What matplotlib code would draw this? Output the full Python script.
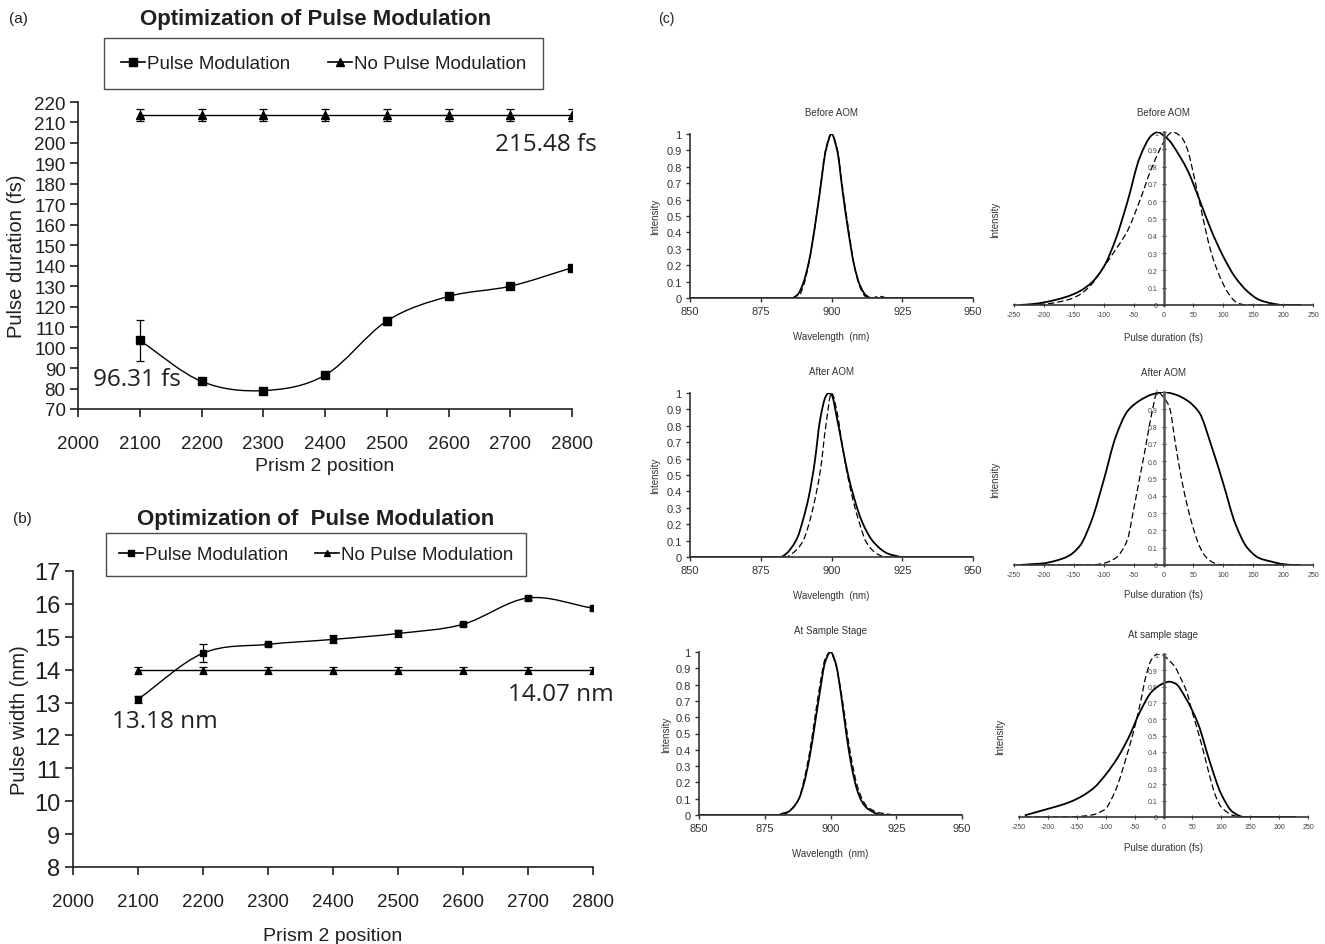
import numpy as np
import matplotlib
matplotlib.use("Agg")
import matplotlib.pyplot as plt
from matplotlib.path import Path
from matplotlib.patches import PathPatch
from matplotlib.lines import Line2D

# ---------------- data: panel (a) ----------------
prism_pos = [2100, 2200, 2300, 2400, 2500, 2600, 2700, 2800]
dur_pm = [103.5, 83.5, 79.0, 86.5, 113.0, 125.0, 130.0, 139.0]
dur_pm_err = [10.0, 1.2, 1.0, 1.0, 2.0, 1.2, 1.2, 1.2]
dur_npm = [213.5, 213.5, 213.5, 213.5, 213.5, 213.5, 213.5, 213.5]
dur_npm_err = [3.0, 3.0, 3.0, 3.0, 3.0, 3.0, 3.0, 3.0]

# ---------------- data: panel (b) ----------------
wid_pm = [13.1, 14.5, 14.77, 14.92, 15.1, 15.38, 16.18, 15.87]
wid_pm_err = [0.1, 0.27, 0.05, 0.12, 0.12, 0.05, 0.05, 0.05]
wid_npm = [13.98, 13.98, 13.98, 13.98, 13.98, 13.98, 13.98, 13.98]
wid_npm_err = [0.1, 0.1, 0.1, 0.1, 0.1, 0.1, 0.1, 0.1]

legend_labels = ["Pulse Modulation", "No Pulse Modulation"]

# ---------------- data: panel (c) spectra ----------------
# Before AOM
spec1_x_solid = [850, 886, 888, 890, 892, 894, 896, 898, 900, 902, 904, 906, 908, 910, 912, 914, 950]
spec1_y_solid = [0, 0, 0.02, 0.09, 0.22, 0.42, 0.66, 0.90, 1.0, 0.90, 0.64, 0.40, 0.20, 0.08, 0.02, 0.0, 0]
spec1_x_dash = [850, 888, 890, 892, 894, 896, 898, 900, 902, 904, 906, 908, 910, 912, 914, 917, 920, 950]
spec1_y_dash = [0, 0, 0.07, 0.21, 0.42, 0.67, 0.91, 1.0, 0.91, 0.66, 0.42, 0.20, 0.07, 0.01, 0.0, 0.01, 0, 0]
# After AOM
spec2_x_solid = [850, 882, 884, 886, 888, 890, 892, 894, 896, 898, 899, 900, 902, 904, 906, 908, 910, 912, 914, 916, 918, 920, 922, 925, 950]
spec2_y_solid = [0, 0, 0.02, 0.06, 0.12, 0.23, 0.37, 0.57, 0.84, 0.98, 1.0, 0.99, 0.84, 0.66, 0.49, 0.36, 0.25, 0.17, 0.11, 0.07, 0.04, 0.02, 0.01, 0, 0]
spec2_x_dash = [850, 884, 886, 888, 890, 892, 894, 896, 898, 900, 902, 904, 906, 908, 910, 912, 914, 916, 918, 920, 950]
spec2_y_dash = [0, 0, 0.02, 0.05, 0.1, 0.2, 0.34, 0.52, 0.8, 1.0, 0.88, 0.66, 0.47, 0.32, 0.2, 0.1, 0.05, 0.02, 0.005, 0, 0]
# At sample stage
spec3_x_solid = [850, 880, 882, 884, 886, 888, 890, 892, 894, 896, 898, 900, 902, 904, 906, 908, 910, 912, 914, 916, 918, 920, 950]
spec3_y_solid = [0, 0, 0.01, 0.02, 0.05, 0.1, 0.2, 0.35, 0.55, 0.76, 0.94, 1.0, 0.93, 0.74, 0.5, 0.3, 0.16, 0.08, 0.04, 0.02, 0.005, 0, 0]
spec3_x_dash = [850, 882, 884, 886, 888, 890, 892, 894, 896, 898, 900, 902, 904, 906, 908, 910, 912, 914, 916, 918, 920, 922, 925, 950]
spec3_y_dash = [0, 0, 0.02, 0.05, 0.1, 0.22, 0.38, 0.59, 0.8, 0.96, 1.0, 0.92, 0.76, 0.54, 0.34, 0.19, 0.1, 0.05, 0.03, 0.015, 0.01, 0.005, 0, 0]

# ---------------- data: panel (c) pulse profiles ----------------
# Before AOM
pul1_x_solid = [-240, -220, -200, -180, -160, -140, -120, -100, -80, -60, -40, -20, -10, 0, 10, 20, 40, 60, 80, 100, 120, 140, 160, 180, 200, 230]
pul1_y_solid = [0, 0.005, 0.015, 0.03, 0.05, 0.08, 0.13, 0.22, 0.38, 0.6, 0.85, 0.98, 1.0, 0.98, 0.95, 0.9, 0.78, 0.61, 0.43, 0.28, 0.16, 0.08, 0.03, 0.01, 0.0, 0]
pul1_x_dash = [-240, -200, -160, -140, -120, -100, -80, -60, -40, -20, 0, 10, 15, 20, 30, 40, 50, 60, 70, 80, 90, 100, 110, 120, 130, 140, 230]
pul1_y_dash = [0, 0.005, 0.03, 0.06, 0.12, 0.22, 0.32, 0.43, 0.6, 0.79, 0.94, 0.99, 1.0, 0.995, 0.97, 0.9, 0.76, 0.6, 0.44, 0.3, 0.2, 0.12, 0.06, 0.02, 0.005, 0, 0]
# After AOM
pul2_x_solid = [-240, -220, -200, -180, -160, -140, -120, -100, -80, -60, -40, -20, 0, 20, 40, 60, 80, 100, 120, 140, 160, 180, 200, 220, 230]
pul2_y_solid = [0, 0.005, 0.01, 0.025, 0.05, 0.11, 0.26, 0.49, 0.74, 0.89, 0.95, 0.985, 1.0, 0.985, 0.95, 0.88, 0.69, 0.47, 0.24, 0.1, 0.04, 0.02, 0.005, 0, 0]
pul2_x_dash = [-240, -120, -100, -80, -70, -60, -50, -40, -30, -20, -10, 0, 10, 20, 30, 40, 50, 60, 70, 80, 90, 100, 230]
pul2_y_dash = [0, 0, 0.01, 0.04, 0.08, 0.15, 0.32, 0.5, 0.68, 0.87, 1.0, 0.97, 0.91, 0.7, 0.5, 0.34, 0.21, 0.11, 0.05, 0.02, 0.005, 0, 0]
# At sample stage
pul3_x_solid = [-240, -220, -200, -180, -160, -140, -120, -100, -80, -60, -40, -20, 0, 10, 20, 40, 60, 80, 100, 120, 140, 160, 200, 230]
pul3_y_solid = [0.01, 0.03, 0.05, 0.07, 0.095, 0.13, 0.18, 0.26, 0.36, 0.49, 0.65, 0.77, 0.82, 0.83, 0.82, 0.72, 0.57, 0.34, 0.14, 0.03, 0.0, 0, 0, 0]
pul3_x_dash = [-240, -160, -140, -120, -110, -100, -90, -80, -70, -60, -50, -40, -30, -20, -10, 0, 10, 20, 30, 40, 50, 60, 70, 80, 90, 100, 110, 120, 140, 230]
pul3_y_dash = [0, 0, 0.005, 0.015, 0.03, 0.05, 0.11, 0.19, 0.3, 0.42, 0.55, 0.7, 0.87, 0.97, 1.0, 0.99, 0.96, 0.92, 0.85, 0.77, 0.64, 0.52, 0.39, 0.25, 0.13, 0.06, 0.03, 0.01, 0, 0]

spec_titles = ["Before AOM", "After AOM", "At Sample Stage"]
pulse_titles = ["Before AOM", "After AOM", "At sample stage"]

# ---------------- styling ----------------
W, H = 1325, 945
TXT = "#231f20"
plt.rcParams["font.family"] = ["Liberation Sans", "DejaVu Sans"]
plt.rcParams["text.color"] = TXT
plt.rcParams["axes.labelcolor"] = TXT
plt.rcParams["xtick.color"] = TXT
plt.rcParams["ytick.color"] = TXT
plt.rcParams["axes.unicode_minus"] = False

fig = plt.figure(figsize=(W / 100, H / 100), dpi=100)


def rect(x0, y0, x1, y1):
    return [x0 / W, 1 - y1 / H, (x1 - x0) / W, (y1 - y0) / H]


def smooth_path(x, y, mode="cr"):
    x = np.asarray(x, float)
    y = np.asarray(y, float)
    n = len(x)
    h = np.diff(x)
    d = np.diff(y) / h
    m = np.zeros(n)
    m[0], m[-1] = d[0], d[-1]
    for i in range(1, n - 1):
        if mode == "cr":
            m[i] = (y[i + 1] - y[i - 1]) / (x[i + 1] - x[i - 1])
        else:
            if d[i - 1] * d[i] <= 0:
                m[i] = 0.0
            else:
                w1 = 2 * h[i] + h[i - 1]
                w2 = h[i] + 2 * h[i - 1]
                m[i] = (w1 + w2) / (w1 / d[i - 1] + w2 / d[i])
    if mode != "cr":
        m[0] = 0.0 if abs(d[0]) < 1e-12 else m[0]
        m[-1] = 0.0 if abs(d[-1]) < 1e-12 else m[-1]
    verts = [(x[0], y[0])]
    codes = [Path.MOVETO]
    for i in range(n - 1):
        verts += [(x[i] + h[i] / 3, y[i] + m[i] * h[i] / 3),
                  (x[i + 1] - h[i] / 3, y[i + 1] - m[i + 1] * h[i] / 3),
                  (x[i + 1], y[i + 1])]
        codes += [Path.CURVE4] * 3
    return Path(verts, codes)


def add_curve(ax, x, y, mode="cr", **kw):
    p = PathPatch(smooth_path(x, y, mode), fill=False, **kw)
    ax.add_patch(p)
    return p


def style_main(ax):
    for s in ["top", "right"]:
        ax.spines[s].set_visible(False)
    for s in ["left", "bottom"]:
        ax.spines[s].set_color(TXT)
        ax.spines[s].set_linewidth(1.2)
    ax.tick_params(direction="out", length=6, width=1.2, labelsize=13.5, pad=13)
    ax.set_xlim(2000, 2800)
    ax.set_xticks(range(2000, 2801, 100))


# ---------------- panel (a) ----------------
axa = fig.add_axes(rect(78, 103, 572, 410))
style_main(axa)
axa.set_ylim(70, 220)
axa.set_yticks(range(70, 221, 10))
axa.tick_params(axis="y", pad=3)
add_curve(axa, prism_pos, dur_pm, edgecolor="black", lw=1.0)
axa.errorbar(prism_pos, dur_pm, yerr=dur_pm_err, fmt="s", color="black", ms=5.8,
             capsize=3, elinewidth=0.9, capthick=0.9)
axa.plot(prism_pos, dur_npm, color="black", lw=1.0)
axa.errorbar(prism_pos, dur_npm, yerr=dur_npm_err, fmt="^", color="black", ms=5.8,
             capsize=3, elinewidth=0.9, capthick=0.9)
axa.set_xlabel("Prism 2 position", fontsize=14, labelpad=3)
axa.set_ylabel("Pulse duration (fs)", fontsize=14.5, labelpad=6)
axa.text(2095, 84.5, "96.31 fs", fontsize=17.5, family=["Open Sans", "DejaVu Sans"],
         ha="center", va="center")
axa.text(2758, 199.5, "215.48 fs", fontsize=17.5, family=["Open Sans", "DejaVu Sans"],
         ha="center", va="center", clip_on=False)

fig.text(18 / W, 1 - 19 / H, "(a)", fontsize=11, ha="center", va="center")
fig.text(316 / W, 1 - 19 / H, "Optimization of Pulse Modulation", fontsize=16,
         fontweight="bold", ha="center", va="center")

h_pm = Line2D([], [], color="black", marker="s", ms=5.8, lw=1.2)
h_npm = Line2D([], [], color="black", marker="^", ms=5.8, lw=1.2)
fig.legend([h_pm, h_npm], legend_labels, loc="center",
           bbox_to_anchor=(323.5 / W, 1 - 64.5 / H), ncol=2, frameon=True, fancybox=False,
           edgecolor=TXT, fontsize=13.5, handlelength=1.3, handletextpad=0.1,
           columnspacing=2.0, borderpad=0.9).get_frame().set_linewidth(1.0)

# ---------------- panel (b) ----------------
axb = fig.add_axes(rect(73, 572, 593, 868))
style_main(axb)
axb.set_ylim(8, 17)
axb.set_yticks(range(8, 18))
axb.tick_params(axis="y", labelsize=17, pad=3)
add_curve(axb, prism_pos, wid_pm, edgecolor="black", lw=1.0)
axb.errorbar(prism_pos, wid_pm, yerr=wid_pm_err, fmt="s", color="black", ms=4.8,
             capsize=3, elinewidth=0.9, capthick=0.9)
axb.plot(prism_pos, wid_npm, color="black", lw=1.0)
axb.errorbar(prism_pos, wid_npm, yerr=wid_npm_err, fmt="^", color="black", ms=4.8,
             capsize=3, elinewidth=0.9, capthick=0.9)
axb.set_xlabel("Prism 2 position", fontsize=14, labelpad=12)
axb.set_ylabel("Pulse width (nm)", fontsize=14.5, labelpad=4)
axb.text(2141, 12.44, "13.18 nm", fontsize=17.5, family=["Open Sans", "DejaVu Sans"],
         ha="center", va="center")
axb.text(2751, 13.26, "14.07 nm", fontsize=17.5, family=["Open Sans", "DejaVu Sans"],
         ha="center", va="center", clip_on=False)

fig.text(22 / W, 1 - 519 / H, "(b)", fontsize=11, ha="center", va="center")
fig.text(316 / W, 1 - 519 / H, "Optimization of  Pulse Modulation", fontsize=16,
         fontweight="bold", ha="center", va="center")
h_pm2 = Line2D([], [], color="black", marker="s", ms=4.8, lw=1.2)
h_npm2 = Line2D([], [], color="black", marker="^", ms=4.8, lw=1.2)
fig.legend([h_pm2, h_npm2], legend_labels, loc="center",
           bbox_to_anchor=(316 / W, 1 - 555.5 / H), ncol=2, frameon=True, fancybox=False,
           edgecolor=TXT, fontsize=13.5, handlelength=1.3, handletextpad=0.1,
           columnspacing=1.4, borderpad=0.7).get_frame().set_linewidth(1.0)

# ---------------- panel (c) ----------------
fig.text(666 / W, 1 - 19 / H, "(c)", fontsize=10, ha="center", va="center")

spec_rects = [(690, 135, 973, 299), (690, 394, 973, 558), (699, 653, 962, 816)]
spec_solid = [(spec1_x_solid, spec1_y_solid), (spec2_x_solid, spec2_y_solid), (spec3_x_solid, spec3_y_solid)]
spec_dash = [(spec1_x_dash, spec1_y_dash), (spec2_x_dash, spec2_y_dash), (spec3_x_dash, spec3_y_dash)]

for r, sol, das, title in zip(spec_rects, spec_solid, spec_dash, spec_titles):
    ax = fig.add_axes(rect(*r))
    for s in ["top", "right"]:
        ax.spines[s].set_visible(False)
    for s in ["left", "bottom"]:
        ax.spines[s].set_linewidth(1.2)
        ax.spines[s].set_color("#333333")
    ax.set_xlim(850, 950)
    ax.set_ylim(0, 1)
    ax.set_xticks([850, 875, 900, 925, 950])
    ax.set_yticks(np.round(np.arange(0, 1.01, 0.1), 1))
    ax.set_yticklabels(["0", "0.1", "0.2", "0.3", "0.4", "0.5", "0.6", "0.7", "0.8", "0.9", "1"])
    ax.tick_params(direction="out", length=3, width=1.0, labelsize=8, pad=3, colors="#333333")
    add_curve(ax, das[0], das[1], mode="pchip", edgecolor="black", lw=0.9, linestyle=(0, (5, 2.5)))
    add_curve(ax, sol[0], sol[1], mode="pchip", edgecolor="black", lw=1.3)
    ax.set_title(title, fontsize=7, pad=14, color="#333333")
    ax.set_xlabel("Wavelength  (nm)", fontsize=7, color="#333333")
    ax.xaxis.set_label_coords(0.5, -0.2)
    ax.set_ylabel("Intensity", fontsize=7, color="#333333")
    ax.yaxis.set_label_coords(-0.105, 0.5)

pulse_rects = [(1014, 133, 1313, 306), (1014, 393, 1313, 566), (1019, 655, 1308, 818)]
pulse_solid = [(pul1_x_solid, pul1_y_solid), (pul2_x_solid, pul2_y_solid), (pul3_x_solid, pul3_y_solid)]
pulse_dash = [(pul1_x_dash, pul1_y_dash), (pul2_x_dash, pul2_y_dash), (pul3_x_dash, pul3_y_dash)]
pulse_lab_off = [27, 24, 25]

for r, sol, das, title, off in zip(pulse_rects, pulse_solid, pulse_dash, pulse_titles, pulse_lab_off):
    ax = fig.add_axes(rect(*r))
    for s in ["top", "right"]:
        ax.spines[s].set_visible(False)
    ax.spines["left"].set_position(("data", 0))
    ax.spines["left"].set_linewidth(1.8)
    ax.spines["left"].set_color("#555555")
    ax.spines["bottom"].set_linewidth(1.2)
    ax.spines["bottom"].set_color("#333333")
    ax.set_xlim(-250, 250)
    ax.set_ylim(0, 1)
    ax.set_xticks(range(-250, 251, 50))
    ax.set_yticks(np.round(np.arange(0, 1.01, 0.1), 1))
    ax.set_yticklabels(["0", "0.1", "0.2", "0.3", "0.4", "0.5", "0.6", "0.7", "0.8", "0.9", "1"])
    ax.tick_params(direction="inout", length=3, width=0.8, labelsize=5, pad=2.5, colors="#444444")
    add_curve(ax, das[0], das[1], mode="pchip", edgecolor="black", lw=0.9, linestyle=(0, (5, 2.5)))
    add_curve(ax, sol[0], sol[1], mode="pchip", edgecolor="black", lw=1.3)
    ax.set_title(title, fontsize=7, pad=12, color="#333333")
    ax.set_xlabel("Pulse duration (fs)", fontsize=7, color="#333333")
    ax.xaxis.set_label_coords(0.5, -off / (r[3] - r[1]))
    ax.set_ylabel("Intensity", fontsize=7, color="#333333")
    ax.yaxis.set_label_coords(-0.047, 0.5)

fig.savefig("out.png", dpi=100)
